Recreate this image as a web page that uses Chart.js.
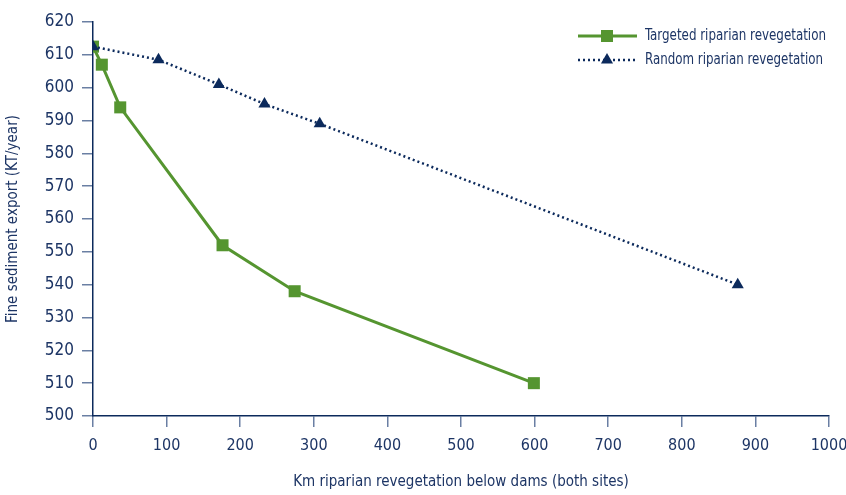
<!DOCTYPE html>
<html>
<head>
<meta charset="utf-8">
<script src="https://cdn.jsdelivr.net/npm/chart.js@4.4.1/dist/chart.umd.min.js"></script>
<style>
  html, body { margin: 0; padding: 0; background: #fff; }
  #wrap { width: 846px; height: 495px; }
</style>
</head>
<body>
<div id="wrap"><canvas id="chart" width="846" height="495"></canvas></div>
<script>
// Data
const targetedKm = [0, 12, 37, 176, 274, 599];
const targetedExport = [612.5, 607, 594, 552, 538, 510];
const randomKm = [0, 89, 171, 233, 308, 876];
const randomExport = [612.5, 608.5, 601, 595, 589, 540];
const seriesNames = ['Targeted riparian revegetation', 'Random riparian revegetation'];

const GREEN = '#559530';
const NAVY = '#0c2a5c';
const TEXT = '#1d3565';
const FONT = "'Liberation Sans Narrow', 'DejaVu Sans Condensed', sans-serif";

const toPoints = (xs, ys) => xs.map((x, i) => ({ x: x, y: ys[i] }));

// Legend with line + marker sample, drawn by hand (text squeezed like the condensed original)
const lineLegend = {
  id: 'lineLegend',
  afterDraw(chart) {
    const ctx = chart.ctx;
    const rows = [
      { label: seriesNames[0], color: GREEN, dash: [], width: 3, style: 'rect', r: 8.5, y: 36, w: 181 },
      { label: seriesNames[1], color: NAVY, dash: [2, 3], width: 2.5, style: 'triangle', r: 7, y: 60, w: 178 }
    ];
    ctx.save();
    rows.forEach(row => {
      ctx.strokeStyle = row.color;
      ctx.lineWidth = row.width;
      ctx.setLineDash(row.dash);
      ctx.beginPath();
      ctx.moveTo(578, row.y);
      ctx.lineTo(637, row.y);
      ctx.stroke();
      ctx.setLineDash([]);
      ctx.fillStyle = row.color;
      Chart.helpers.drawPoint(ctx, { pointStyle: row.style, radius: row.r, borderWidth: 0 }, 607, row.y);

      ctx.font = '16px ' + FONT;
      const sx = Math.min(1, row.w / ctx.measureText(row.label).width);
      ctx.save();
      ctx.translate(645, row.y);
      ctx.scale(sx, 1);
      ctx.fillStyle = TEXT;
      ctx.textBaseline = 'middle';
      ctx.textAlign = 'left';
      ctx.fillText(row.label, 0, 0);
      ctx.restore();
    });
    ctx.restore();
  }
};

new Chart(document.getElementById('chart').getContext('2d'), {
  type: 'line',
  data: {
    datasets: [{
      label: seriesNames[0],
      data: toPoints(targetedKm, targetedExport),
      borderColor: GREEN,
      backgroundColor: GREEN,
      borderWidth: 3,
      pointStyle: 'rect',
      pointRadius: 8.5,
      pointBorderWidth: 0,
      tension: 0,
      order: 2
    }, {
      label: seriesNames[1],
      data: toPoints(randomKm, randomExport),
      borderColor: NAVY,
      backgroundColor: NAVY,
      borderWidth: 2.5,
      borderDash: [2, 3],
      pointStyle: 'triangle',
      pointRadius: 7,
      pointBorderWidth: 0,
      tension: 0,
      order: 1
    }]
  },
  options: {
    responsive: false,
    animation: false,
    layout: { padding: { top: 22, right: 17, left: 0, bottom: 0 } },
    plugins: {
      legend: { display: false },
      tooltip: { enabled: false }
    },
    scales: {
      x: {
        type: 'linear',
        min: 0,
        max: 1000,
        ticks: { stepSize: 100, color: TEXT, padding: 9, font: { family: FONT, size: 16 }, callback: v => String(v) },
        grid: { drawOnChartArea: false, tickLength: 11, color: '#6a7fa3', lineWidth: 1.5 },
        border: { color: NAVY, width: 1.5 },
        title: { display: true, text: 'Km riparian revegetation below dams (both sites)', color: TEXT, font: { family: FONT, size: 15 }, padding: { top: 12 } },
        afterFit(scale) {
          scale.height = 79;
          scale.paddingRight = 0;
        }
      },
      y: {
        min: 500,
        max: 620,
        ticks: { stepSize: 10, color: TEXT, padding: 8, font: { family: FONT, size: 17 } },
        grid: { drawOnChartArea: false, tickLength: 11, color: '#6a7fa3', lineWidth: 1.5 },
        border: { color: NAVY, width: 1.5 },
        title: { display: true, text: 'Fine sediment export (KT/year)', color: TEXT, font: { family: FONT, size: 15 }, padding: { bottom: 4 } },
        afterFit(scale) { scale.width = 93; }
      }
    }
  },
  plugins: [lineLegend]
});
</script>
</body>
</html>
